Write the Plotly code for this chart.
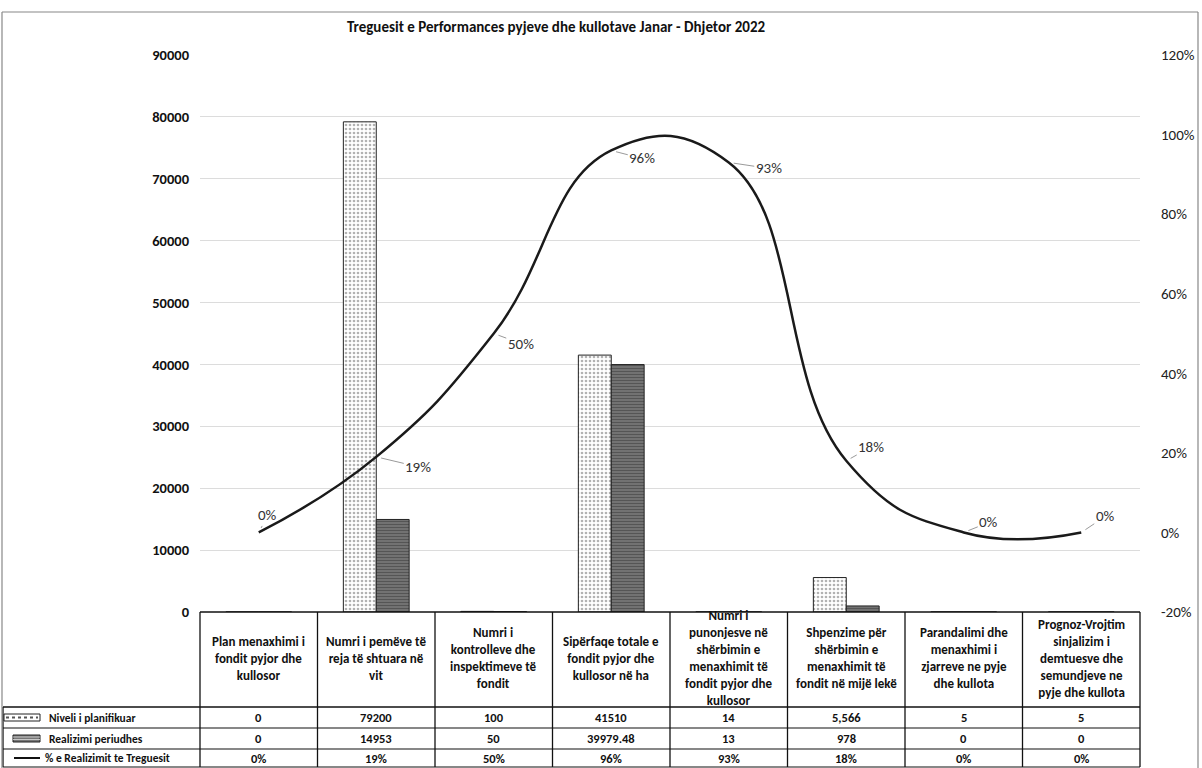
import plotly.graph_objects as go

# ---------------- data ----------------
categories = [
    "Plan menaxhimi i<br>fondit pyjor dhe<br>kullosor",
    "Numri i pemëve të<br>reja të shtuara në<br>vit",
    "Numri i<br>kontrolleve dhe<br>inspektimeve të<br>fondit",
    "Sipërfaqe totale e<br>fondit pyjor dhe<br>kullosor në ha",
    "Numri i<br>punonjesve në<br>shërbimin e<br>menaxhimit të<br>fondit pyjor dhe<br>kullosor",
    "Shpenzime për<br>shërbimin e<br>menaxhimit të<br>fondit në mijë lekë",
    "Parandalimi dhe<br>menaxhimi i<br>zjarreve ne pyje<br>dhe kullota",
    "Prognoz-Vrojtim<br>sinjalizim i<br>demtuesve dhe<br>semundjeve ne<br>pyje dhe kullota",
]
series_names = ["Niveli i planifikuar", "Realizimi periudhes", "% e Realizimit te Treguesit"]
planned = [0, 79200, 100, 41510, 14, 5566, 5, 5]
realized = [0, 14953, 50, 39979.48, 13, 978, 0, 0]
pct = [0.0, 0.19, 0.50, 0.96, 0.93, 0.18, 0.0, 0.0]
planned_text = ["0", "79200", "100", "41510", "14", "5,566", "5", "5"]
realized_text = ["0", "14953", "50", "39979.48", "13", "978", "0", "0"]
pct_text = ["0%", "19%", "50%", "96%", "93%", "18%", "0%", "0%"]
y_tickvals = [0, 10000, 20000, 30000, 40000, 50000, 60000, 70000, 80000, 90000]
y_ticktext = ["0", "10000", "20000", "30000", "40000", "50000", "60000", "70000", "80000", "90000"]
y2_tickvals = [-0.2, 0.0, 0.2, 0.4, 0.6, 0.8, 1.0, 1.2]
y2_ticktext = ["-20%", "0%", "20%", "40%", "60%", "80%", "100%", "120%"]
title_text = "Treguesit e Performances pyjeve dhe kullotave Janar - Dhjetor 2022"

# ---------------- layout geometry (pixels) ----------------
W, H = 1202, 768
L, R, T, B = 200, 1140, 55, 612
FONT = "Carlito, Liberation Sans Narrow, Liberation Sans, Arial"


def px(x):
    return (x - L) / (R - L)


def py(y):
    return (B - y) / (B - T)


fig = go.Figure()

fig.add_trace(go.Bar(
    x=categories, y=planned, name=series_names[0],
    marker=dict(color="white", line=dict(color="#222", width=1),
                pattern=dict(shape=".", fgcolor="#666", bgcolor="white", size=4, solidity=0.35)),
    showlegend=False, hoverinfo="skip",
))
fig.add_trace(go.Bar(
    x=categories, y=realized, name=series_names[1],
    marker=dict(color="#6f6f6f", line=dict(color="#222", width=1),
                pattern=dict(shape="-", fgcolor="#333", bgcolor="#777", size=3, solidity=0.45)),
    showlegend=False, hoverinfo="skip",
))
fig.add_trace(go.Scatter(
    x=categories, y=pct, name=series_names[2], yaxis="y2", mode="lines",
    line=dict(color="#1a1a1a", width=2.5, shape="spline", smoothing=1.3),
    showlegend=False, hoverinfo="skip",
))

# data labels for the % line
label_offsets = [(9, -17), (42, 10), (27, 10), (31, 8), (40, 6), (25, -14), (25, -10), (24, -16)]
annotations = []
for c, v, t, (dx, dy) in zip(categories, pct, pct_text, label_offsets):
    annotations.append(dict(
        x=c, y=v, xref="x", yref="y2", text=t, showarrow=True, ax=dx, ay=dy,
        arrowhead=0, arrowwidth=1, arrowcolor="#9a9a9a", standoff=5,
        font=dict(family=FONT, size=15, color="#333"),
    ))

# ---------------- data table ----------------
shapes = []
line_kw = dict(color="#111", width=1.3)
row_tops = [707, 728, 749, 767]
shapes.append(dict(type="line", xref="paper", yref="paper", x0=px(L), x1=px(R), y0=py(B), y1=py(B), line=line_kw))
for yy in row_tops:
    shapes.append(dict(type="line", xref="paper", yref="paper", x0=px(3), x1=px(R), y0=py(yy), y1=py(yy),
                       line=dict(color="#111", width=1.6 if yy == 707 else 1.2)))
ncat = len(categories)
colw = (R - L) / ncat
for i in range(ncat + 1):
    xx = L + i * colw
    shapes.append(dict(type="line", xref="paper", yref="paper", x0=px(xx), x1=px(xx), y0=py(B), y1=py(767),
                       line=line_kw))
shapes.append(dict(type="line", xref="paper", yref="paper", x0=px(3), x1=px(3), y0=py(707), y1=py(767),
                   line=line_kw))

for c in categories:
    annotations.append(dict(x=c, xref="x", y=py(658), yref="paper", text=c, showarrow=False,
                            yanchor="middle", align="center",
                            font=dict(family=FONT, size=13, color="#111", weight="bold")))

row_centers = [717.5, 738.5, 758]
row_values = [planned_text, realized_text, pct_text]
for yc, vals in zip(row_centers, row_values):
    for c, t in zip(categories, vals):
        annotations.append(dict(x=c, xref="x", y=py(yc), yref="paper", text=t, showarrow=False,
                                yanchor="middle",
                                font=dict(family=FONT, size=12.5, color="#111", weight="bold")))

text_x = [47, 47, 43]
for yc, name, tx in zip(row_centers, series_names, text_x):
    annotations.append(dict(x=px(tx), xref="paper", y=py(yc), yref="paper", text=name, showarrow=False,
                            xanchor="left", yanchor="middle",
                            font=dict(family=FONT, size=11.5, color="#111", weight="bold")))
# key 1: dotted box
shapes.append(dict(type="rect", xref="paper", yref="paper", x0=px(4), x1=px(40), y0=py(714), y1=py(721),
                   line=dict(color="#222", width=1), fillcolor="white"))
shapes.append(dict(type="line", xref="paper", yref="paper", x0=px(6), x1=px(38), y0=py(717.5), y1=py(717.5),
                   line=dict(color="#555", width=2, dash="dot")))
# key 2: striped box
shapes.append(dict(type="rect", xref="paper", yref="paper", x0=px(13), x1=px(40), y0=py(735), y1=py(742),
                   line=dict(color="#222", width=1), fillcolor="#777"))
for yy in (737, 739.5):
    shapes.append(dict(type="line", xref="paper", yref="paper", x0=px(13), x1=px(40), y0=py(yy), y1=py(yy),
                       line=dict(color="#ddd", width=0.8)))
# key 3: line
shapes.append(dict(type="line", xref="paper", yref="paper", x0=px(14), x1=px(40), y0=py(758), y1=py(758),
                   line=dict(color="#111", width=2)))

# outer chart frame
frame = dict(color="#888", width=1.2)
shapes.append(dict(type="line", xref="paper", yref="paper", x0=px(2), x1=px(1198), y0=py(12), y1=py(12), line=frame))
shapes.append(dict(type="line", xref="paper", yref="paper", x0=px(1198), x1=px(1198), y0=py(12), y1=py(768), line=frame))
shapes.append(dict(type="line", xref="paper", yref="paper", x0=px(2), x1=px(2), y0=py(12), y1=py(768), line=frame))

fig.update_layout(
    width=W, height=H,
    margin=dict(l=L, r=W - R, t=T, b=H - B, pad=0, autoexpand=False),
    paper_bgcolor="white", plot_bgcolor="white",
    barmode="group", bargap=0.44, bargroupgap=0,
    title=dict(text=title_text, x=556 / W, xanchor="center", y=1 - 27 / H, yanchor="middle",
               xref="container", yref="container", automargin=False,
               font=dict(family=FONT, size=15, color="#111", weight="bold")),
    xaxis=dict(showticklabels=False, showgrid=False, zeroline=False, showline=False, ticks="",
               automargin=False),
    yaxis=dict(range=[0, 90000], tickvals=y_tickvals, ticktext=y_ticktext, showgrid=True,
               gridcolor="#dcdcdc", gridwidth=1, automargin=False,
               zeroline=False, showline=False, ticks="", ticklabelstandoff=10,
               tickfont=dict(family=FONT, size=14.5, color="#111", weight="bold")),
    yaxis2=dict(range=[-0.2, 1.2], overlaying="y", side="right", tickvals=y2_tickvals, ticktext=y2_ticktext,
                showgrid=False, zeroline=False, showline=False, ticks="", ticklabelstandoff=20,
                automargin=False,
                tickfont=dict(family=FONT, size=15, color="#222")),
    shapes=shapes,
    annotations=annotations,
)

fig.write_html("out.html", config={"displayModeBar": False},
               post_script="document.body.style.margin='0';document.body.style.overflow='hidden';")
